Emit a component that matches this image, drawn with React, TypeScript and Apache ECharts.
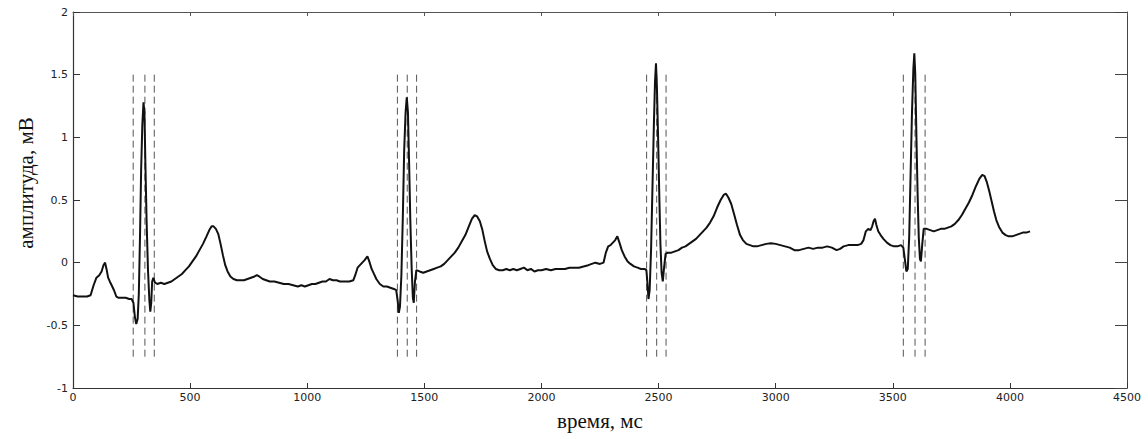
import React, { useEffect, useRef } from "react";
import * as echarts from "echarts";

// ECG trace: [time in ms, amplitude in mV]
const ecgSamples: [number, number][] = [
  [0, -0.26], [20, -0.27], [40, -0.27], [60, -0.27], [75, -0.26], [88, -0.18], [100, -0.12], [112, -0.1],
  [122, -0.07], [130, -0.02], [137, 0.0], [143, -0.05], [150, -0.12], [157, -0.15], [165, -0.18], [175, -0.22],
  [185, -0.27], [195, -0.28], [210, -0.28], [225, -0.28], [240, -0.29], [250, -0.29], [258, -0.32], [264, -0.43],
  [270, -0.49], [276, -0.45], [281, -0.25], [286, 0.2], [291, 0.75], [296, 1.1], [301, 1.28], [305, 1.2],
  [309, 0.8], [314, 0.35], [320, -0.05], [326, -0.3], [330, -0.39], [334, -0.32], [338, -0.15], [343, -0.12],
  [350, -0.16], [360, -0.17], [375, -0.16], [390, -0.17], [405, -0.16], [420, -0.15], [435, -0.13], [450, -0.11],
  [465, -0.09], [480, -0.06], [495, -0.03], [510, 0.01], [525, 0.05], [540, 0.1], [555, 0.15], [570, 0.21],
  [582, 0.26], [592, 0.29], [600, 0.29], [610, 0.27], [620, 0.23], [630, 0.15], [640, 0.06], [650, -0.02],
  [660, -0.07], [672, -0.11], [685, -0.13], [700, -0.14], [715, -0.14], [730, -0.14], [745, -0.13], [760, -0.12],
  [775, -0.11], [785, -0.1], [795, -0.11], [810, -0.13], [825, -0.14], [840, -0.15], [860, -0.15], [880, -0.16],
  [900, -0.17], [920, -0.17], [940, -0.18], [960, -0.19], [975, -0.18], [990, -0.19], [1005, -0.18], [1020, -0.17],
  [1035, -0.17], [1050, -0.16], [1065, -0.15], [1080, -0.15], [1095, -0.13], [1110, -0.14], [1125, -0.14], [1140, -0.15],
  [1160, -0.15], [1180, -0.15], [1197, -0.14], [1205, -0.1], [1215, -0.04], [1225, -0.02], [1235, 0.0], [1245, 0.02],
  [1257, 0.05], [1265, 0.01], [1275, -0.05], [1285, -0.09], [1295, -0.13], [1310, -0.17], [1325, -0.19], [1340, -0.19],
  [1355, -0.2], [1370, -0.21], [1380, -0.22], [1386, -0.3], [1391, -0.4], [1396, -0.35], [1402, -0.1], [1408, 0.35],
  [1414, 0.9], [1420, 1.2], [1425, 1.32], [1430, 1.2], [1435, 0.8], [1440, 0.35], [1446, -0.05], [1451, -0.28],
  [1455, -0.32], [1460, -0.15], [1466, -0.06], [1480, -0.07], [1495, -0.08], [1510, -0.07], [1525, -0.06], [1540, -0.05],
  [1555, -0.04], [1570, -0.03], [1585, -0.01], [1600, 0.02], [1615, 0.05], [1630, 0.08], [1645, 0.12], [1660, 0.17],
  [1675, 0.22], [1690, 0.29], [1703, 0.35], [1715, 0.38], [1725, 0.37], [1737, 0.33], [1748, 0.26], [1758, 0.17],
  [1768, 0.09], [1780, 0.03], [1792, -0.02], [1805, -0.05], [1820, -0.06], [1835, -0.06], [1850, -0.05], [1865, -0.06],
  [1880, -0.05], [1895, -0.06], [1910, -0.05], [1925, -0.04], [1940, -0.06], [1955, -0.05], [1970, -0.07], [1985, -0.06],
  [2000, -0.06], [2020, -0.05], [2040, -0.06], [2060, -0.05], [2080, -0.05], [2100, -0.05], [2120, -0.04], [2140, -0.04],
  [2160, -0.04], [2180, -0.03], [2200, -0.02], [2215, -0.01], [2230, 0.0], [2250, -0.01], [2265, 0.0], [2275, 0.08],
  [2285, 0.13], [2295, 0.14], [2305, 0.16], [2315, 0.18], [2324, 0.21], [2333, 0.16], [2343, 0.1], [2355, 0.05],
  [2368, 0.01], [2380, -0.01], [2395, -0.03], [2410, -0.04], [2425, -0.05], [2440, -0.05], [2448, -0.06], [2452, -0.15],
  [2457, -0.29], [2462, -0.22], [2468, 0.1], [2474, 0.6], [2480, 1.1], [2485, 1.45], [2489, 1.59], [2493, 1.4],
  [2498, 1.0], [2503, 0.55], [2508, 0.15], [2513, -0.08], [2518, -0.15], [2523, -0.05], [2530, 0.07], [2540, 0.08],
  [2555, 0.08], [2570, 0.09], [2585, 0.1], [2600, 0.12], [2615, 0.13], [2630, 0.15], [2645, 0.17], [2660, 0.19],
  [2675, 0.22], [2690, 0.25], [2705, 0.28], [2720, 0.32], [2735, 0.37], [2750, 0.44], [2765, 0.5], [2778, 0.54],
  [2788, 0.55], [2798, 0.52], [2810, 0.47], [2822, 0.39], [2835, 0.3], [2848, 0.22], [2860, 0.18], [2875, 0.15],
  [2890, 0.14], [2905, 0.13], [2920, 0.13], [2940, 0.14], [2960, 0.15], [2980, 0.155], [3000, 0.15], [3020, 0.14],
  [3040, 0.13], [3060, 0.12], [3080, 0.1], [3100, 0.1], [3120, 0.11], [3140, 0.12], [3160, 0.11], [3180, 0.12],
  [3200, 0.12], [3220, 0.13], [3240, 0.12], [3260, 0.1], [3275, 0.11], [3290, 0.13], [3310, 0.14], [3330, 0.14],
  [3350, 0.14], [3365, 0.15], [3375, 0.18], [3385, 0.25], [3395, 0.27], [3405, 0.26], [3412, 0.29], [3418, 0.33],
  [3424, 0.35], [3430, 0.3], [3438, 0.25], [3448, 0.22], [3460, 0.19], [3475, 0.16], [3490, 0.14], [3505, 0.13],
  [3520, 0.13], [3535, 0.14], [3545, 0.12], [3552, 0.02], [3558, -0.07], [3564, -0.05], [3570, 0.2], [3576, 0.7],
  [3582, 1.2], [3588, 1.55], [3592, 1.67], [3596, 1.5], [3601, 1.0], [3606, 0.55], [3611, 0.2], [3616, 0.03],
  [3620, 0.01], [3626, 0.15], [3632, 0.27], [3645, 0.27], [3660, 0.26], [3675, 0.25], [3690, 0.26], [3705, 0.27],
  [3720, 0.27], [3735, 0.28], [3750, 0.29], [3765, 0.31], [3780, 0.34], [3795, 0.38], [3810, 0.43], [3825, 0.48],
  [3840, 0.54], [3855, 0.61], [3870, 0.67], [3882, 0.7], [3892, 0.69], [3902, 0.64], [3912, 0.57], [3922, 0.49],
  [3932, 0.41], [3942, 0.34], [3955, 0.28], [3968, 0.24], [3982, 0.22], [3995, 0.21], [4010, 0.21], [4025, 0.22],
  [4040, 0.23], [4055, 0.24], [4070, 0.24], [4086, 0.25],
];

// QRS boundary markers (Q onset, R peak, S end) per beat, ms
const qrsMarkersMs: number[] = [
  257, 307, 347,
  1385, 1427, 1467,
  2449, 2492, 2532,
  3545, 3595, 3638,
];
const markerRange: [number, number] = [-0.75, 1.5];

const xTicks = { min: 0, max: 4500, interval: 500 };
const yTicks = { min: -1, max: 2, interval: 0.5 };
const xAxisTitle = "время, мс";
const yAxisTitle = "амплитуда, мВ";

export default function App() {
  const ref = useRef<HTMLDivElement>(null);
  useEffect(() => {
    if (!ref.current) return;
    const chart = echarts.init(ref.current, undefined, { renderer: "svg" });
    const labelStyle = {
      fontFamily: "DejaVu Sans",
      fontSize: 11,
      color: "#222",
      formatter: (v: number) => String(v),
    };
    const lineCol = "#333";
    const markerSeries = qrsMarkersMs.map((t, i) => ({
      type: "line" as const,
      name: "qrs" + i,
      data: [[t, markerRange[0]], [t, markerRange[1]]],
      showSymbol: false,
      symbol: "none",
      silent: true,
      lineStyle: { color: "#555", width: 1, type: [7, 4] as any },
      z: 1,
    }));
    chart.setOption({
      animation: false,
      grid: { left: 73, right: 21, top: 12, bottom: 51, containLabel: false },
      xAxis: [
        {
          type: "value", ...xTicks, position: "bottom",
          axisLine: { show: true, onZero: false, lineStyle: { color: lineCol, width: 1.2 } },
          axisTick: { show: true, inside: true, length: 5, lineStyle: { color: lineCol } },
          axisLabel: { ...labelStyle, margin: 4 },
          splitLine: { show: false },
        },
        {
          type: "value", ...xTicks, position: "top",
          axisLine: { show: true, onZero: false, lineStyle: { color: "#555", width: 1 } },
          axisTick: { show: true, inside: true, length: 4, lineStyle: { color: "#555" } },
          axisLabel: { show: false },
          splitLine: { show: false },
        },
      ],
      yAxis: [
        {
          type: "value", ...yTicks, position: "left",
          axisLine: { show: true, onZero: false, lineStyle: { color: lineCol, width: 1.2 } },
          axisTick: { show: true, inside: true, length: 7, lineStyle: { color: lineCol } },
          axisLabel: { ...labelStyle, margin: 5 },
          splitLine: { show: false },
        },
        {
          type: "value", ...yTicks, position: "right",
          axisLine: { show: true, onZero: false, lineStyle: { color: "#444", width: 1 } },
          axisTick: { show: true, inside: true, length: 12, lineStyle: { color: "#444" } },
          axisLabel: { show: false },
          splitLine: { show: false },
        },
      ],
      graphic: [
        {
          type: "text", x: 26, y: 183, rotation: Math.PI / 2,
          style: { text: yAxisTitle, font: '21px "Liberation Serif"', fill: "#111", align: "center", verticalAlign: "middle" },
        },
        {
          type: "text", x: 600, y: 421,
          style: { text: xAxisTitle, font: '21px "Liberation Serif"', fill: "#111", align: "center", verticalAlign: "middle" },
        },
      ],
      series: [
        ...markerSeries,
        {
          type: "line",
          name: "ECG",
          data: ecgSamples,
          showSymbol: false,
          symbol: "none",
          lineStyle: { color: "#111", width: 2 },
          z: 3,
        },
      ],
    });
    return () => chart.dispose();
  }, []);
  return (
    <div
      ref={ref}
      style={{ position: "fixed", left: 0, top: 0, width: 1148, height: 439, background: "#fff" }}
    />
  );
}
